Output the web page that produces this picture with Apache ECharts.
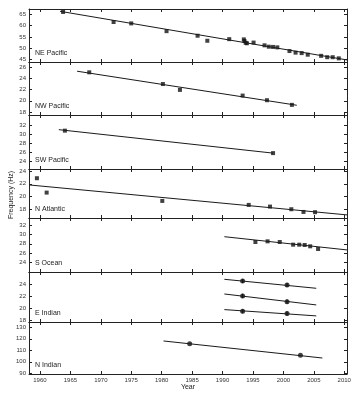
<!DOCTYPE html>
<html><head><meta charset="utf-8">
<script src="https://cdn.jsdelivr.net/npm/echarts@6/dist/echarts.min.js"></script>
<style>html,body{margin:0;padding:0;background:#fff}#c{width:362px;height:400px}</style>
</head><body><div id="c"></div>
<script>
// ---- tick labels ----
const yearTicks = [1960, 1965, 1970, 1975, 1980, 1985, 1990, 1995, 2000, 2005, 2010];
const nePacTicks = [45, 50, 55, 60, 65];
const nwPacTicks = [18, 20, 22, 24, 26];
const swPacTicks = [24, 26, 28, 30, 32];
const nAtlTicks = [18, 20, 22, 24];
const sOceTicks = [24, 26, 28, 30, 32];
const eIndTicks = [18, 20, 22, 24];
const nIndTicks = [90, 100, 110, 120, 130];

// ---- data ----
const nePacYears = [1963.8, 1972.1, 1975.0, 1980.8, 1985.9, 1987.5, 1991.1, 1993.5, 1993.6, 1993.8, 1994.0, 1995.1, 1996.9, 1997.6, 1998.3, 1999.0, 2001.0, 2002.0, 2003.0, 2004.0, 2006.2, 2007.2, 2008.1, 2009.1];
const nePacVals  = [65.9, 61.5, 60.9, 57.5, 55.5, 53.3, 54.0, 53.9, 53.2, 52.4, 52.2, 52.5, 51.3, 50.7, 50.6, 50.4, 48.8, 48.1, 47.9, 47.2, 46.7, 46.1, 46.1, 45.6];
const nePacFit   = [[1963.3, 66.2], [2010.45, 44.9]];

const nwPacYears = [1968.1, 1980.2, 1983.0, 1993.3, 1997.3, 2001.4];
const nwPacVals  = [25.1, 23.0, 21.95, 20.93, 20.1, 19.27];
const nwPacFit   = [[1966.1, 25.3], [2002.2, 19.2]];

const swPacYears = [1964.1, 1998.3];
const swPacVals  = [30.75, 25.8];
const swPacFit   = [[1963.1, 30.97], [1998.3, 25.8]];

const nAtlYears = [1959.5, 1961.1, 1980.1, 1994.3, 1997.8, 2001.3, 2003.3, 2005.2];
const nAtlVals  = [22.87, 20.64, 19.35, 18.73, 18.47, 18.06, 17.64, 17.6];
const nAtlFit   = [[1958.2, 21.83], [2010.45, 17.18]];

const sOceYears = [1995.4, 1997.4, 1999.4, 2001.6, 2002.6, 2003.5, 2004.4, 2005.7];
const sOceVals  = [28.39, 28.53, 28.39, 27.82, 27.82, 27.75, 27.47, 26.9];
const sOceFit   = [[1990.3, 29.52], [2010.45, 26.7]];

const eIndYears = [1993.3, 2000.6];
const eIndValsA = [24.55, 23.88];
const eIndValsB = [22.05, 21.1];
const eIndValsC = [19.5, 19.1];
const eIndErr   = 0.35;
const eIndFitA  = [[1990.3, 24.83], [2005.4, 23.33]];
const eIndFitB  = [[1990.3, 22.38], [2005.4, 20.55]];
const eIndFitC  = [[1990.3, 19.77], [2005.4, 18.72]];

const nIndYears = [1984.6, 2002.8];
const nIndVals  = [115.7, 105.6];
const nIndFit   = [[1980.3, 118.1], [2006.4, 103.3]];

// ---- layout ----
const FONT = '"Liberation Sans", Arial, sans-serif';
const xMin = 1958.2, xMax = 2010.45;
const bounds = [9, 62, 115, 169, 218, 272, 322, 374];
const gridLeft = 29, gridRight = 15;

const zip = (xs, ys) => xs.map((x, i) => [x, ys[i]]);
const plain = v => String(Math.round(v));

const panels = [
  {name: 'NE Pacific', yMin: 44, yMax: 67.2, ticks: nePacTicks, pts: [zip(nePacYears, nePacVals)], fits: [nePacFit], sym: 'rect', err: false},
  {name: 'NW Pacific', yMin: 17.45, yMax: 26.95, ticks: nwPacTicks, pts: [zip(nwPacYears, nwPacVals)], fits: [nwPacFit], sym: 'rect', err: false},
  {name: 'SW Pacific', yMin: 22.3, yMax: 34.2, ticks: swPacTicks, pts: [zip(swPacYears, swPacVals)], fits: [swPacFit], sym: 'rect', err: false},
  {name: 'N Atlantic', yMin: 16.7, yMax: 24.3, ticks: nAtlTicks, pts: [zip(nAtlYears, nAtlVals)], fits: [nAtlFit], sym: 'rect', err: false},
  {name: 'S Ocean', yMin: 22.0, yMax: 33.5, ticks: sOceTicks, pts: [zip(sOceYears, sOceVals)], fits: [sOceFit], sym: 'rect', err: false},
  {name: 'E Indian', yMin: 17.7, yMax: 26.05, ticks: eIndTicks, pts: [zip(eIndYears, eIndValsA), zip(eIndYears, eIndValsB), zip(eIndYears, eIndValsC)], fits: [eIndFitA, eIndFitB, eIndFitC], sym: 'circle', err: true},
  {name: 'N Indian', yMin: 89.4, yMax: 134.6, ticks: nIndTicks, pts: [zip(nIndYears, nIndVals)], fits: [nIndFit], sym: 'circle', err: false}
];

const axisLineStyle = {color: '#222', width: 1};
const grid = [], xAxis = [], yAxis = [], series = [], graphic = [];

panels.forEach((p, i) => {
  const top = bounds[i], h = bounds[i + 1] - bounds[i];
  grid.push({left: gridLeft, right: gridRight, top: top, height: h, containLabel: false});
  const xBase = {
    gridIndex: i, type: 'value', min: xMin, max: xMax,
    axisLine: {show: true, onZero: false, lineStyle: axisLineStyle},
    axisTick: {show: true, inside: true, length: 3, customValues: yearTicks, lineStyle: axisLineStyle},
    splitLine: {show: false}
  };
  xAxis.push(Object.assign({}, xBase, {
    position: 'bottom',
    axisLabel: {show: i === panels.length - 1, customValues: yearTicks, formatter: plain, fontSize: 6, margin: 3, color: '#333', fontFamily: FONT}
  }));
  xAxis.push(Object.assign({}, xBase, {position: 'top', axisLabel: {show: false}}));
  const yBase = {
    gridIndex: i, type: 'value', min: p.yMin, max: p.yMax,
    axisLine: {show: true, onZero: false, lineStyle: axisLineStyle},
    axisTick: {show: true, inside: true, length: 3, customValues: p.ticks, lineStyle: axisLineStyle},
    splitLine: {show: false}
  };
  yAxis.push(Object.assign({}, yBase, {
    position: 'left',
    axisLabel: {show: true, customValues: p.ticks, formatter: plain, fontSize: 6, margin: 3, color: '#333', fontFamily: FONT}
  }));
  yAxis.push(Object.assign({}, yBase, {position: 'right', axisLabel: {show: false}}));

  p.fits.forEach(f => series.push({
    type: 'line', xAxisIndex: 2 * i, yAxisIndex: 2 * i, data: f, symbol: 'none', silent: true,
    lineStyle: {color: '#1a1a1a', width: 1}
  }));
  p.pts.forEach(d => {
    series.push({
      type: 'scatter', xAxisIndex: 2 * i, yAxisIndex: 2 * i, data: d,
      symbol: p.sym, symbolSize: p.sym === 'rect' ? 4 : 5, itemStyle: {color: '#111'}
    });
    if (p.err) {
      series.push({
        type: 'custom', xAxisIndex: 2 * i, yAxisIndex: 2 * i, data: d.map(v => [v[0], v[1], eIndErr]),
        renderItem: (params, api) => {
          const x = api.value(0), y = api.value(1), e = api.value(2);
          const a = api.coord([x, y - e]), b = api.coord([x, y + e]);
          return {type: 'line', shape: {x1: a[0], y1: a[1], x2: b[0], y2: b[1]}, style: {stroke: '#111', lineWidth: 1.2}};
        }
      });
    }
  });

  graphic.push({
    type: 'text', left: gridLeft + 6, top: bounds[i + 1] - 12,
    style: {text: p.name, font: '7px ' + FONT, fill: '#222'}
  });
});

graphic.push({type: 'text', x: 188, y: 387, style: {text: 'Year', font: '7px ' + FONT, fill: '#222', textAlign: 'center', textVerticalAlign: 'middle'}});
graphic.push({type: 'text', x: 11, y: 195, rotation: Math.PI / 2, style: {text: 'Frequency (Hz)', font: '7px ' + FONT, fill: '#222', textAlign: 'center', textVerticalAlign: 'middle'}});

const chart = echarts.init(document.getElementById('c'), null, {renderer: 'canvas'});
chart.setOption({animation: false, backgroundColor: '#fff', grid, xAxis, yAxis, series, graphic});
</script>
</body></html>
